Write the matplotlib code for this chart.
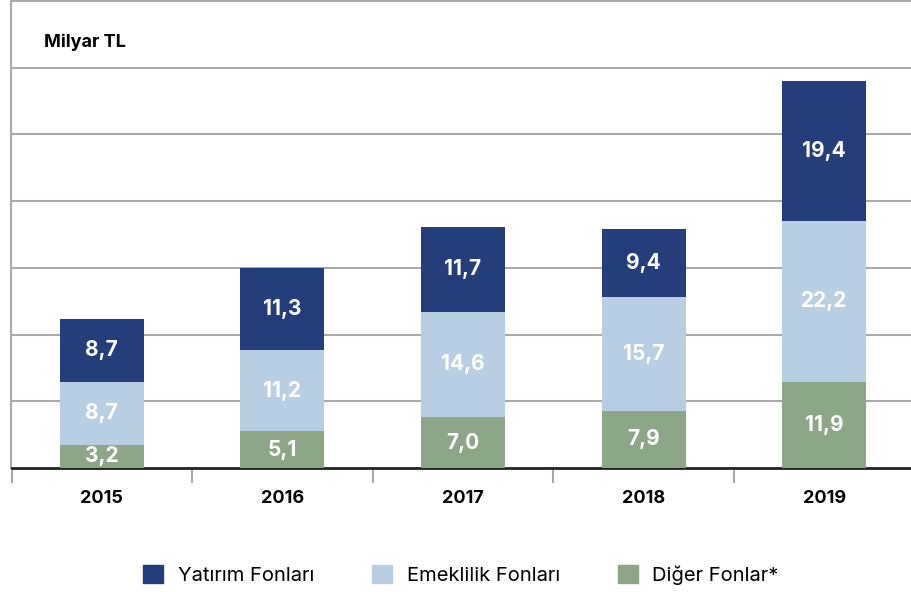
import numpy as np
import matplotlib
matplotlib.use("Agg")
import matplotlib.pyplot as plt
from matplotlib.patches import Patch

plt.rcParams['font.family'] = ['Inter', 'DejaVu Sans']

years = ["2015", "2016", "2017", "2018", "2019"]
diger = [3.2, 5.1, 7.0, 7.9, 11.9]
emeklilik = [8.7, 11.2, 14.6, 15.7, 22.2]
yatirim = [8.7, 11.3, 11.7, 9.4, 19.4]
series_names = ["Yatırım Fonları", "Emeklilik Fonları", "Diğer Fonlar*"]
unit_label = "Milyar TL"

c_dark = "#233E7B"
c_light = "#B8CFE3"
c_green = "#8EA688"

W, H = 912, 592
fig = plt.figure(figsize=(W / 100, H / 100), dpi=100)
ax = fig.add_axes([11.5 / W, (H - 468) / H, 903 / W, 467 / H])

ymax = 64.5
x = np.arange(len(years))
bw = 0.465

ax.bar(x, diger, bw, color=c_green, zorder=3)
ax.bar(x, emeklilik, bw, bottom=diger, color=c_light, zorder=3)
bottom3 = np.array(diger) + np.array(emeklilik)
ax.bar(x, yatirim, bw, bottom=bottom3, color=c_dark, zorder=3)

def fmt(v):
    return f"{v:.1f}".replace(".", ",")

lab_kw = dict(ha="center", va="center", color="white", fontsize=15,
              fontweight="bold", zorder=4)
for i in range(len(years)):
    ax.text(x[i], diger[i] / 2, fmt(diger[i]), **lab_kw)
    ax.text(x[i], diger[i] + emeklilik[i] / 2, fmt(emeklilik[i]), **lab_kw)
    ax.text(x[i], bottom3[i] + yatirim[i] / 2, fmt(yatirim[i]), **lab_kw)

ax.set_xlim(-0.5, len(years) - 0.5)
ax.set_ylim(0, ymax)
grid = np.linspace(0, ymax * 467 / 467, 8)[1:]
for g in grid:
    ax.axhline(g, color="#AAAAAA", lw=1.5, zorder=1, clip_on=False)

ax.set_yticks([])
ax.set_xticks(x)
ax.set_xticklabels(years, fontsize=13, fontweight="bold")
ax.tick_params(axis="x", length=0, pad=16)
ax.set_xticks(np.arange(len(years) + 1) - 0.5, minor=True)
ax.tick_params(axis="x", which="minor", length=11, width=1.5, color="#AAAAAA")

for s in ["top", "right"]:
    ax.spines[s].set_visible(False)
ax.spines["left"].set_color("#AAAAAA")
ax.spines["left"].set_linewidth(1.5)
ax.spines["bottom"].set_color("#222222")
ax.spines["bottom"].set_linewidth(2)

fig.text(44 / W, 1 - 42 / H, unit_label, fontsize=13, fontweight="bold",
         ha="left", va="center")

handles = [Patch(color=c_dark), Patch(color=c_light), Patch(color=c_green)]
fig.legend(handles, series_names, loc="center", bbox_to_anchor=(461 / W, 1 - 575 / H),
           ncol=3, frameon=False, fontsize=14.5, handlelength=1.0, handleheight=1.0,
           handletextpad=0.7, columnspacing=2.9)

fig.savefig("out.png", dpi=100)
